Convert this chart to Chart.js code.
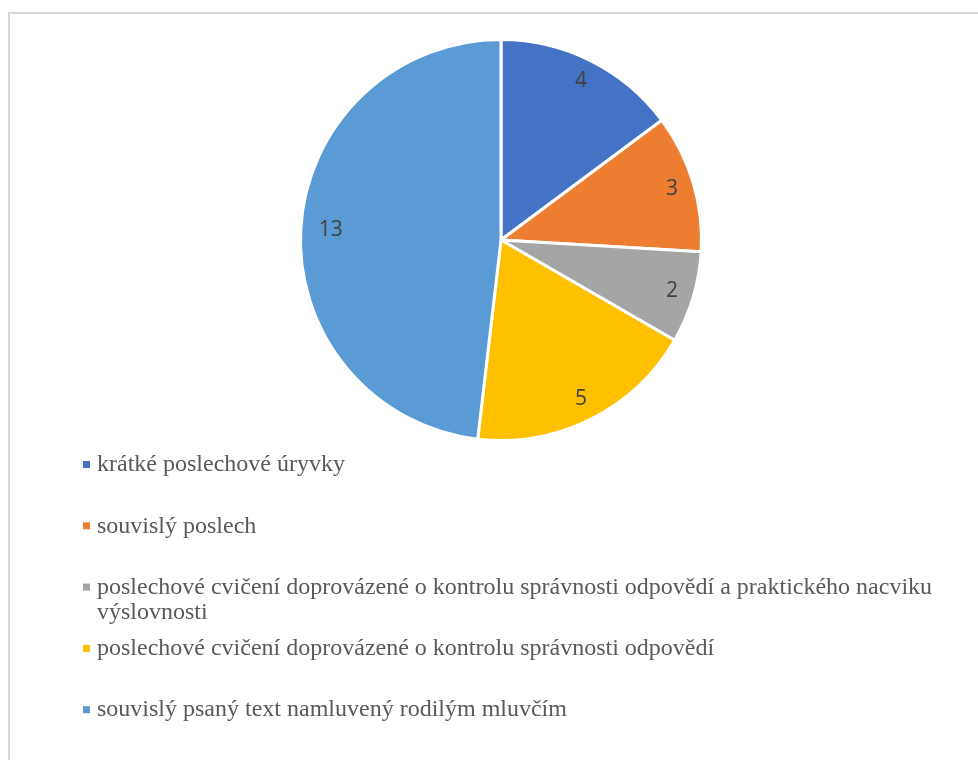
<!DOCTYPE html>
<html>
<head>
<meta charset="utf-8">
<script src="https://cdn.jsdelivr.net/npm/chart.js@4"></script>
<style>
  body { margin: 0; background: #fff; }
  #frame { position: absolute; left: 8px; top: 12px; width: 980px; height: 760px;
           border-top: 2px solid #d9d9d9; border-left: 2px solid #d9d9d9; }
  #wrap { position: absolute; left: 0; top: 0; width: 978px; height: 760px; }
</style>
</head>
<body>
<div id="frame"></div>
<div id="wrap"><canvas id="pie"></canvas></div>
<script>
// data
const labels = [
    'krátké poslechové úryvky',
    'souvislý poslech',
    'poslechové cvičení doprovázené o kontrolu správnosti odpovědí a praktického nacviku výslovnosti',
    'poslechové cvičení doprovázené o kontrolu správnosti odpovědí',
    'souvislý psaný text namluvený rodilým mluvčím'
];
const values = [4, 3, 2, 5, 13];
const colors = ['#4472C4', '#ED7D31', '#A5A5A5', '#FFC000', '#5B9BD5'];

// hodnoty uvnitř výsečí
const sliceLabels = {
    id: 'sliceLabels',
    afterDatasetsDraw(chart) {
        const ctx = chart.ctx;
        const meta = chart.getDatasetMeta(0);
        ctx.save();
        ctx.font = '21px "Open Sans"';
        ctx.fillStyle = '#404040';
        ctx.textAlign = 'center';
        ctx.textBaseline = 'middle';
        meta.data.forEach((arc, i) => {
            const p = arc.getProps(['x', 'y', 'startAngle', 'endAngle', 'outerRadius'], true);
            const mid = (p.startAngle + p.endAngle) / 2;
            const r = p.outerRadius * (values[i] > 10 ? 0.85 : 0.89);
            ctx.fillText(values[i], p.x + Math.cos(mid) * r, p.y + Math.sin(mid) * r);
        });
        ctx.restore();
    }
};

// legenda pod grafem (se zalamováním řádků)
const legendBelow = {
    id: 'legendBelow',
    afterDraw(chart) {
        const ctx = chart.ctx;
        ctx.save();
        ctx.font = '24px "Liberation Serif"';
        ctx.textBaseline = 'middle';
        const x0 = 97, maxW = 850, lineH = 25;
        labels.forEach((txt, i) => {
            const y = 465 + i * 61.3;
            ctx.fillStyle = colors[i];
            ctx.fillRect(83, y - 4, 7, 7);
            ctx.fillStyle = '#595959';
            // zalamování
            const words = txt.split(' ');
            let line = '', ly = y;
            words.forEach(w => {
                const test = line ? line + ' ' + w : w;
                if (ctx.measureText(test).width > maxW && line) {
                    ctx.fillText(line, x0, ly);
                    line = w;
                    ly += lineH;
                } else {
                    line = test;
                }
            });
            ctx.fillText(line, x0, ly);
        });
        ctx.restore();
    }
};

new Chart(document.getElementById('pie'), {
    type: 'pie',
    data: {
        labels: labels,
        datasets: [{
            data: values,
            backgroundColor: colors,
            borderColor: '#ffffff',
            borderWidth: 3
        }]
    },
    options: {
        responsive: true,
        maintainAspectRatio: false,
        animation: false,
        layout: { padding: { left: 24, right: 0, top: 38, bottom: 318 } },
        plugins: {
            legend: { display: false },
            tooltip: { enabled: false }
        }
    },
    plugins: [sliceLabels, legendBelow]
});
</script>
</body>
</html>
